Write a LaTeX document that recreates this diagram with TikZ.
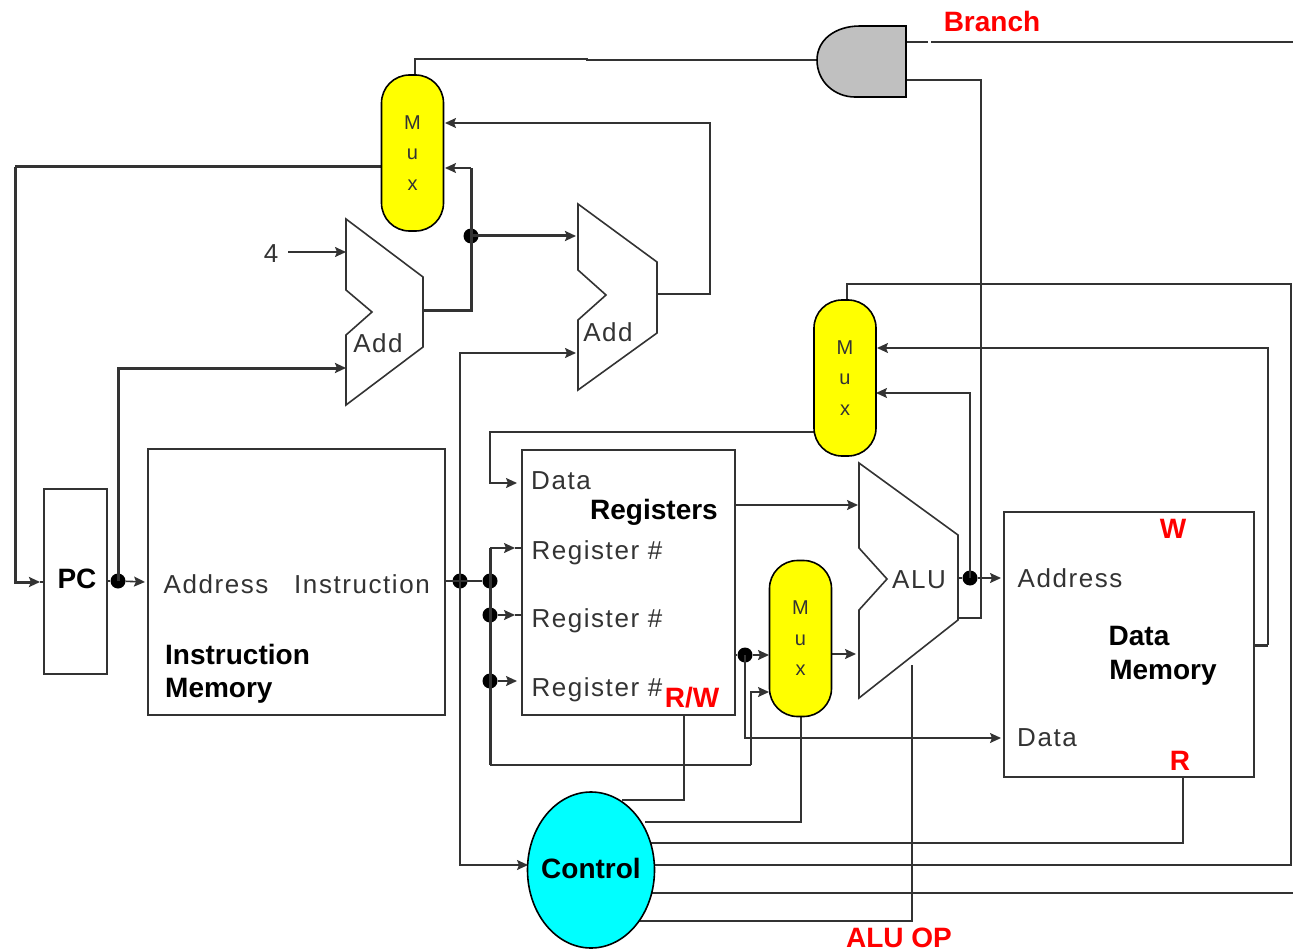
\documentclass[tikz,border=0pt]{standalone}
\usepackage{fontspec}
\setmainfont{Liberation Sans}
\newfontfamily\spacedfont[LetterSpace=6]{Liberation Sans}
\usetikzlibrary{arrows.meta, shapes.geometric}
\definecolor{wirecol}{HTML}{333333}
\definecolor{muxcol}{RGB}{255,255,0}
\definecolor{ctlcol}{RGB}{0,255,255}
\definecolor{sigcol}{RGB}{255,0,0}
\definecolor{andcol}{RGB}{192,192,192}
\tikzset{
	wire/.style={draw=wirecol, line width=1.6pt},
	bus/.style={draw=wirecol, line width=3pt},
	unitbox/.style={draw=wirecol, line width=1.6pt, fill=white, inner sep=0pt, outer sep=0pt},
	adder/.style={draw=wirecol, line width=1.6pt, fill=white, line join=miter},
	muxbox/.style={draw=black, line width=1.6pt, fill=muxcol, rounded corners=28pt, minimum width=62pt, minimum height=156pt, inner sep=0pt, outer sep=0pt, align=center, font=\fontsize{20}{30.5}\selectfont, text=wirecol},
	jdot/.style={circle, fill=black, inner sep=0pt, minimum size=15pt},
	plain/.style={font=\fontsize{26}{30}\spacedfont, text=wirecol, inner sep=0pt},
	heavy/.style={font=\fontsize{28}{34}\bfseries\selectfont, text=black, inner sep=0pt},
	signal/.style={font=\fontsize{28}{34}\bfseries\selectfont, text=sigcol, inner sep=0pt}
}
\begin{document}
\begin{tikzpicture}[x=1pt, y=-1pt, >={Stealth[length=11pt,width=10pt,inset=2pt]}]
	\useasboundingbox (0,0) rectangle (1293,952);
	
	% 1. ports and junctions
	\coordinate (pcin) at (44,582);
	\coordinate (pcout) at (107,581);
	\coordinate (imin) at (145,582);
	\coordinate (imout) at (445,581);
	\coordinate (addai) at (346,252);
	\coordinate (addbi) at (346,368);
	\coordinate (addao) at (423,310);
	\coordinate (addci) at (576,236);
	\coordinate (adddi) at (576,353);
	\coordinate (addbo) at (657,294);
	\coordinate (four) at (288,252);
	\coordinate (rega) at (522,548);
	\coordinate (regb) at (522,615);
	\coordinate (regc) at (517,681);
	\coordinate (regd) at (517,483);
	\coordinate (regout) at (735,505);
	\coordinate (regoutb) at (735,655);
	\coordinate (rwport) at (684,715);
	\coordinate (aluina) at (858,505);
	\coordinate (aluinb) at (856,654);
	\coordinate (aluout) at (958,578);
	\coordinate (alubot) at (912,665);
	\coordinate (aluz) at (958,618);
	\coordinate (dmaddr) at (1001,578);
	\coordinate (dmdata) at (1001,738);
	\coordinate (dmout) at (1254,645);
	\coordinate (dmr) at (1183,777);
	\coordinate (andout) at (906,42);
	\coordinate (andzero) at (906,80);
	\coordinate (farright) at (1293,42);
	\coordinate (ctla) at (622,800);
	\coordinate (ctlb) at (645,822);
	\coordinate (ctlc) at (650,843);
	\coordinate (ctld) at (652,865);
	\coordinate (ctle) at (648,893);
	\coordinate (ctlf) at (638,921);
	
	\node[jdot] (jpc) at (118,581) {};
	\node[jdot] (jadd) at (471,236) {};
	\node[jdot] (jinst) at (460,581) {};
	\node[jdot] (jbusa) at (490,581) {};
	\node[jdot] (jbusb) at (490,615) {};
	\node[jdot] (jbusc) at (490,681) {};
	\node[jdot] (jreg) at (745,655) {};
	\node[jdot] (jalu) at (970,578) {};
	
	% 2. wires sit under the units
	\draw[wire] (jpc) -- (pcout);
	\draw[wire, ->] (jpc) -- (imin);
	\draw[wire] (imout) -- (jbusa);
	\draw[bus, ->] (jpc.center) |- (addbi);
	\draw[wire, ->] (four) -- (addai);
	\draw[bus] (addao) -| (jadd.center);
	\draw[bus, ->] (jadd.center) -- (addci);
	\draw[bus] (jadd.center) -- (471,168);
	\draw[wire, ->] (471,168) -- (445,168);
	\draw[wire, ->] (addbo) -- (710,294) -- (710,123) -- (445,123);
	\draw[bus] (15,167) -- (381,167);
	\draw[bus, ->] (15,167) -- (15,582) -- (40,582);
	\draw[wire] (40,582) -- (pcin);
	\draw[wire] (415,75) -- (415,59) -- (587,59) -- (587,60) -- (817,60);
	\draw[wire, ->] (jinst.center) |- (adddi);
	\draw[wire, ->] (jinst.center) -- (460,865) -- (528,865);
	\draw[wire, ->] (490,548) -- (515,548);
	\draw[wire] (515,548) -- (rega);
	\draw[wire, ->] (jbusb) -- (515,615);
	\draw[wire] (515,615) -- (regb);
	\draw[wire, ->] (jbusc) -- (regc);
	\draw[bus] (490,548) -- (490,765);
	\draw[wire] (490,765) -- (751,765);
	\draw[wire, ->] (751,765) -- (751,692) -- (769,692);
	\draw[wire] (regoutb) -- (jreg);
	\draw[wire, ->] (jreg) -- (769,655);
	\draw[wire, ->] (jreg.center) |- (dmdata);
	\draw[wire, ->] (regout) -- (aluina);
	\draw[wire, ->] (832,654) -- (aluinb);
	\draw[wire] (aluout) -- (jalu);
	\draw[wire, ->] (jalu) -- (dmaddr);
	\draw[wire, ->] (jalu.center) |- (876,393);
	\draw[wire] (andzero) -| (981,618) -- (aluz);
	\draw[wire] (andout) -- (928,42);
	\draw[wire] (931,42) -- (farright);
	\draw[bus] (dmout) -- (1268,645);
	\draw[wire, ->] (1268,645) -- (1268,348) -- (877,348);
	\draw[wire] (847,300) -- (847,284) -- (1291,284) -- (1291,865) -- (ctld);
	\draw[wire, ->] (814,432) -- (490,432) -- (490,483) -- (regd);
	\draw[wire] (rwport) |- (ctla);
	\draw[wire] (ctlb) -| (801,716);
	\draw[wire] (ctlc) -| (dmr);
	\draw[wire] (ctle) -- (1293,893);
	\draw[wire] (ctlf) -| (alubot);
	
	% 3. units
	\node[unitbox, minimum width=63pt, minimum height=185pt] (pc) at (75.5,581.5) {};
	\node[unitbox, minimum width=297pt, minimum height=266pt] (imem) at (296.5,582) {};
	\node[unitbox, minimum width=213pt, minimum height=265pt] (regs) at (628.5,582.5) {};
	\node[unitbox, minimum width=250pt, minimum height=265pt] (dmem) at (1129,644.5) {};
	\node[muxbox] (muxpc) at (412.5,153) {M\\u\\x};
	\node[muxbox] (muxwb) at (845,378) {M\\u\\x};
	\node[muxbox] (muxalu) at (800.5,638.5) {M\\u\\x};
	\node[draw=black, line width=1.6pt, ellipse, fill=ctlcol, minimum width=127pt, minimum height=156pt, inner sep=0pt] (control) at (591,870) {};
	\draw[adder] (346,219) -- (423,277) -- (423,347) -- (346,405) -- (346,335) -- (372,312) -- (346,290) -- cycle;
	\draw[adder] (578,204) -- (657,262) -- (657,333) -- (578,390) -- (578,320) -- (606,295) -- (578,270) -- cycle;
	\draw[adder] (859,463) -- (958,535) -- (958,620) -- (859,698) -- (859,610) -- (887,579) -- (859,548) -- cycle;
	\draw[draw=black, line width=1.6pt, fill=andcol] (906,26) -- (860,26) .. controls (835,26) and (817,40) .. (817,60) .. controls (817,82) and (835,97) .. (855,97) -- (906,97) -- cycle;
	
	% 4. labels
	\node[heavy] (pclbl) at (77,579) {PC};
	\node[plain] (imaddr) at (216,584) {Address};
	\node[plain] (iminst) at (362,584) {Instruction};
	\node[heavy, anchor=west] (imname) at (165,654) {Instruction};
	\node[heavy, anchor=west] (imnameb) at (165,691) {Memory};
	\node[plain] (regdata) at (561,481) {Data};
	\node[heavy] (regname) at (654,512) {Registers};
	\node[plain] (regnuma) at (597,553) {Register \#};
	\node[plain] (regnumb) at (597,621) {Register \#};
	\node[plain] (regnumc) at (597,690) {Register \#};
	\node[signal] (rwlbl) at (692,698) {R/W};
	\node[plain] (fourlbl) at (271,254) {4};
	\node[plain] (addalbl) at (378,343) {Add};
	\node[plain] (addblbl) at (608,332) {Add};
	\node[plain] (alulbl) at (919,580) {ALU};
	\node[signal] (wlbl) at (1173,529) {W};
	\node[plain] (dmaddrlbl) at (1070,578) {Address};
	\node[heavy] (dmname) at (1139,636) {Data};
	\node[heavy] (dmnameb) at (1163,673) {Memory};
	\node[plain] (dmdatalbl) at (1047,738) {Data};
	\node[signal] (rlbl) at (1180,761) {R};
	\node[heavy] (ctllbl) at (591,868) {Control};
	\node[signal] (branchlbl) at (992,21) {Branch};
	\node[signal] (aluoplbl) at (899,938) {ALU OP};
\end{tikzpicture}
\end{document}
